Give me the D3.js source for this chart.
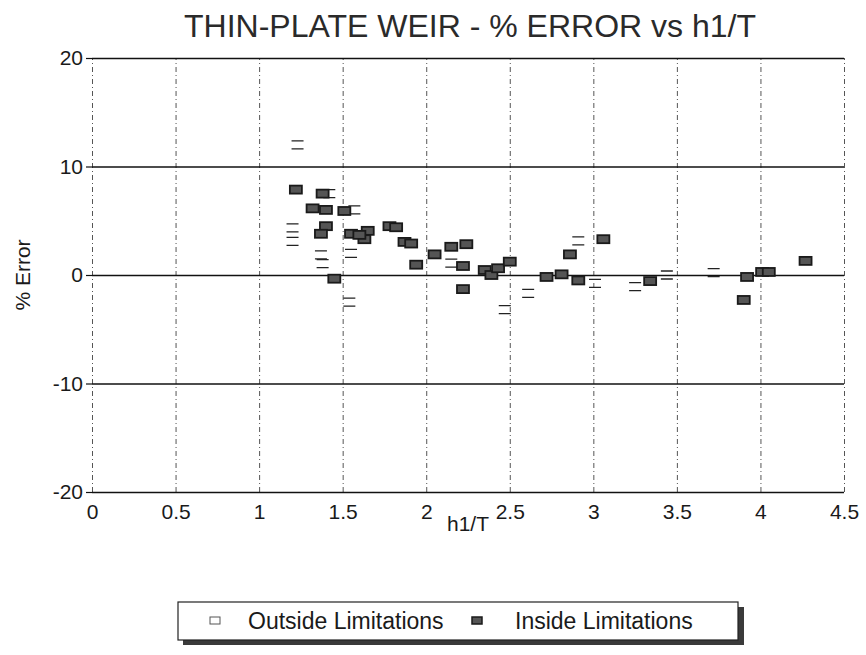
<!DOCTYPE html>
<html>
<head>
<meta charset="utf-8">
<script src="https://cdn.jsdelivr.net/npm/d3@7"></script>
<style>
  body { margin: 0; background: #fff; }
  text { font-family: "Liberation Sans", Arial, sans-serif; fill: #1a1a1a; }
</style>
</head>
<body>
<div id="chart"></div>
<script>
// values
var xTicks = [0, 0.5, 1, 1.5, 2, 2.5, 3, 3.5, 4, 4.5];
var yTicks = [-20, -10, 0, 10, 20];

var outsideX = [1.23, 1.20, 1.20, 1.37, 1.38, 1.55, 1.54, 1.57, 1.42, 2.15, 2.47, 2.61, 2.91, 3.01, 3.25, 3.44, 3.72];
var outsideY = [12.0, 4.35, 3.1, 1.85, 1.05, 2.0, -2.5, 6.0, 7.5, 1.1, -3.2, -1.7, 3.15, -0.77, -1.08, 0.0, 0.22];

var insideX = [1.22, 1.38, 1.32, 1.40, 1.51, 1.40, 1.37, 1.55, 1.65, 1.63, 1.60, 1.78, 1.82, 1.87, 1.91, 1.94, 1.45,
               2.05, 2.15, 2.24, 2.22, 2.22, 2.35, 2.39, 2.43, 2.50, 2.72, 2.81, 2.86, 2.91, 3.06, 3.34, 3.92, 3.90,
               4.01, 4.05, 4.27];
var insideY = [7.87, 7.5, 6.14, 6.0, 5.9, 4.5, 3.8, 3.8, 4.07, 3.3, 3.7, 4.5, 4.4, 3.05, 2.9, 0.95, -0.34,
               1.9, 2.6, 2.84, 0.83, -1.3, 0.46, 0.0, 0.62, 1.23, -0.18, 0.06, 1.9, -0.5, 3.3, -0.56, -0.18, -2.3,
               0.28, 0.28, 1.3];

var legendNames = ["Outside Limitations", "Inside Limitations"];

var W = 866, H = 655;
var margin = {top: 58, right: 22, bottom: 163, left: 92};
var width = W - margin.left - margin.right,
    height = H - margin.top - margin.bottom;

var root = d3.select("#chart").append("svg")
    .attr("width", W)
    .attr("height", H);

var svg = root.append("g")
    .attr("transform", "translate(" + margin.left + "," + margin.top + ")");

var x = d3.scaleLinear().domain([0, 4.5]).range([0, width]);
var y = d3.scaleLinear().domain([-20, 20]).range([height, 0]);

// plain hyphen labels like the original
var plain = function(d) { return String(d); };

// vertical dashed grid
var vgrid = svg.append("g")
    .attr("transform", "translate(0," + height + ")")
    .call(d3.axisBottom(x).tickValues(xTicks).tickSize(-height).tickFormat(""));
vgrid.select(".domain").remove();
vgrid.selectAll("line")
    .attr("stroke", "#555")
    .attr("stroke-width", 1)
    .attr("stroke-dasharray", "5,3,1,3");

// horizontal solid lines
var hgrid = svg.append("g")
    .call(d3.axisLeft(y).tickValues(yTicks).tickSize(-width).tickFormat(""));
hgrid.select(".domain").remove();
hgrid.selectAll("line")
    .attr("stroke", "#111")
    .attr("stroke-width", 1.6);

// Y axis with ticks and labels
var yAxis = svg.append("g")
    .call(d3.axisLeft(y).tickValues(yTicks).tickSize(6).tickPadding(3).tickFormat(plain));
yAxis.select(".domain").remove();
yAxis.selectAll("line").attr("stroke", "#111").attr("stroke-width", 1.2);
yAxis.selectAll("text")
    .style("font-size", "21px")
    .style("font-family", "'Liberation Sans', Arial, sans-serif")
    .attr("fill", "#1a1a1a");

// X axis labels
var xAxis = svg.append("g")
    .attr("transform", "translate(0," + height + ")")
    .call(d3.axisBottom(x).tickValues(xTicks).tickSize(0).tickPadding(12).tickFormat(plain));
xAxis.select(".domain").remove();
xAxis.selectAll("text")
    .style("font-size", "21px")
    .style("font-family", "'Liberation Sans', Arial, sans-serif")
    .attr("fill", "#1a1a1a");

// markers
var mw = 12, mh = 8;
var outside = outsideX.map(function(d, i) { return {x: d, y: outsideY[i]}; });
var inside = insideX.map(function(d, i) { return {x: d, y: insideY[i]}; });

svg.selectAll(".outside")
    .data(outside)
    .enter()
    .append("rect")
    .attr("class", "outside")
    .attr("x", function(d) { return x(d.x) - mw / 2; })
    .attr("y", function(d) { return y(d.y) - mh / 2; })
    .attr("width", mw)
    .attr("height", mh)
    .attr("fill", "none")
    .attr("stroke", "#222")
    .attr("stroke-width", 1.3)
    .attr("stroke-dasharray", mw + "," + mh);

svg.selectAll(".inside")
    .data(inside)
    .enter()
    .append("rect")
    .attr("class", "inside")
    .attr("x", function(d) { return x(d.x) - mw / 2; })
    .attr("y", function(d) { return y(d.y) - mh / 2; })
    .attr("width", mw)
    .attr("height", mh)
    .attr("fill", "#555")
    .attr("stroke", "#1a1a1a")
    .attr("stroke-width", 1.8);

// title
root.append("text")
    .attr("x", 470)
    .attr("y", 37)
    .attr("text-anchor", "middle")
    .style("font-size", "32px")
    .style("fill", "#2a2a2a")
    .text("THIN-PLATE WEIR - % ERROR vs h1/T");

// axis titles
root.append("text")
    .attr("x", 468)
    .attr("y", 531)
    .attr("text-anchor", "middle")
    .style("font-size", "21px")
    .text("h1/T");

root.append("text")
    .attr("transform", "translate(30," + 275 + ") rotate(-90)")
    .attr("text-anchor", "middle")
    .style("font-size", "21px")
    .text("% Error");

// legend
var lg = root.append("g").attr("transform", "translate(178,602)");
lg.append("rect")
    .attr("x", 5).attr("y", 5)
    .attr("width", 561).attr("height", 38)
    .attr("fill", "#3a3a3a");
lg.append("rect")
    .attr("x", 0).attr("y", 0)
    .attr("width", 560).attr("height", 38)
    .attr("fill", "#fff")
    .attr("stroke", "#222")
    .attr("stroke-width", 1.2);

lg.append("rect")
    .attr("x", 32).attr("y", 15)
    .attr("width", 10).attr("height", 7)
    .attr("fill", "#fff")
    .attr("stroke", "#555")
    .attr("stroke-width", 1);
lg.append("text")
    .attr("x", 70).attr("y", 27)
    .style("font-size", "23px")
    .text(legendNames[0]);

lg.append("rect")
    .attr("x", 294).attr("y", 15)
    .attr("width", 10).attr("height", 7)
    .attr("fill", "#555")
    .attr("stroke", "#1a1a1a")
    .attr("stroke-width", 1.5);
lg.append("text")
    .attr("x", 337).attr("y", 27)
    .style("font-size", "23px")
    .text(legendNames[1]);
</script>
</body>
</html>
